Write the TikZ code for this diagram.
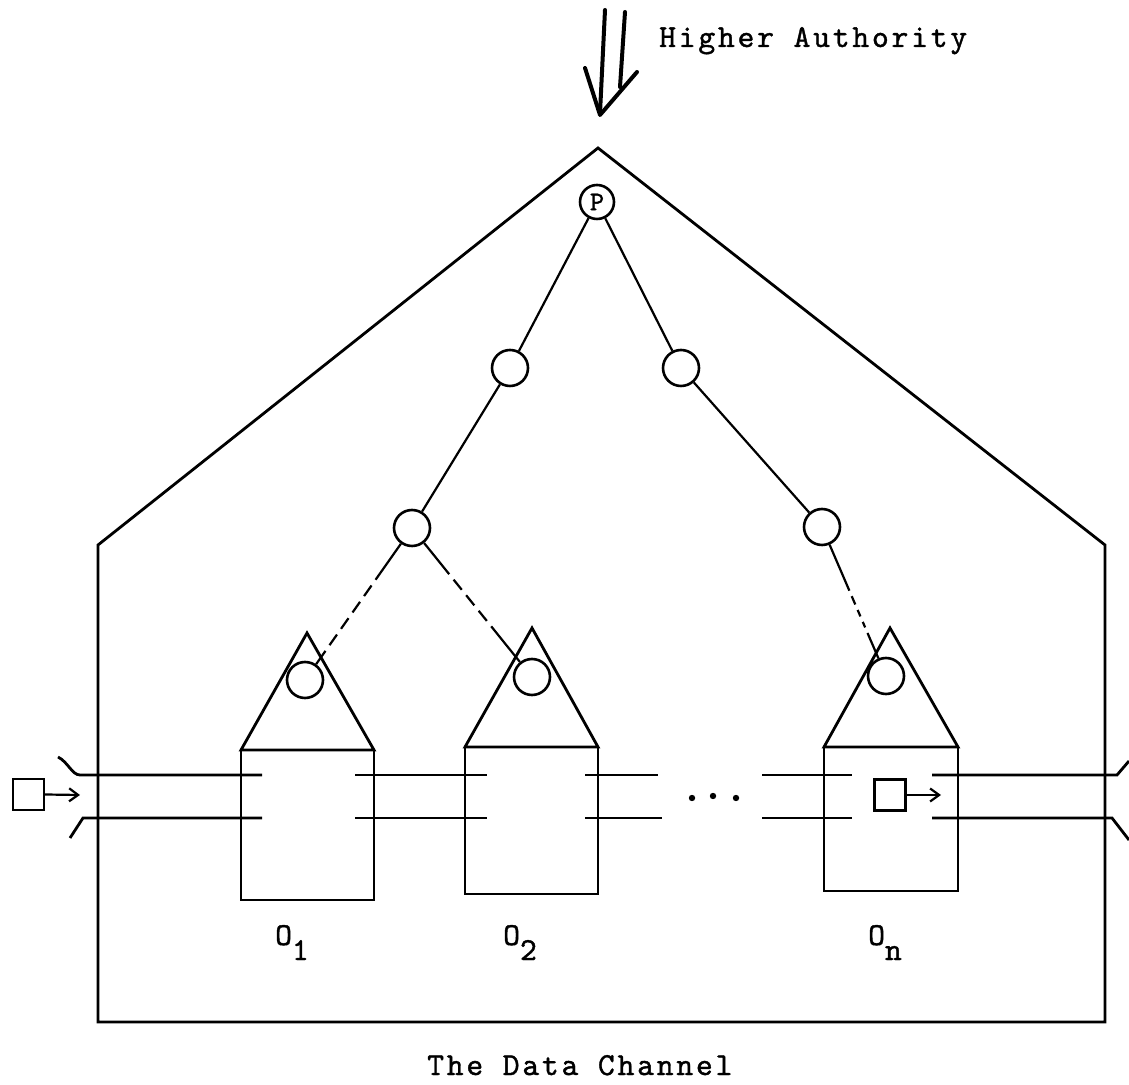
\documentclass[tikz,border=0pt]{standalone}
\usepackage{fontspec}
\usetikzlibrary{arrows.meta}

\newfontfamily\twfont{lmmono10-regular.otf}[LetterSpace=8.75, FakeBold=1.2]
\newcommand\typewriter{\twfont\fontsize{32}{36}\selectfont}

\tikzset{
  wall/.style={line width=2.8pt, line join=miter},
  proc/.style={line width=2.8pt, line join=miter},
  chan/.style={line width=2.8pt},
  treeedge/.style={line width=2.2pt},
  tnode/.style={circle, draw, line width=2.6pt, minimum size=36pt, inner sep=0pt},
  pnode/.style={circle, draw, line width=2.6pt, minimum size=34pt, inner sep=0pt},
  msgbox/.style={draw, line width=2.4pt, minimum size=31pt, inner sep=0pt},
  msgarrow/.style={line width=2.2pt, -{Straight Barb[length=9pt, width=13pt, line width=2.2pt]}},
  tw/.style={font=\typewriter, inner sep=0pt},
  hand/.style={line width=4pt, line cap=round, line join=round},
}

\begin{document}
\begin{tikzpicture}[x=1pt, y=1pt]
\useasboundingbox (0,0) rectangle (1129,1084);

% outer building: the domain of the principal
\draw[wall] (98,62) -- (98,539) -- (598,936) -- (1105,539) -- (1105,62) -- cycle;

% incoming order from above
\draw[hand] (605,1074) -- (600,971);
\draw[hand] (625,1072) -- (620,997);
\draw[hand] (585,1016) -- (600,969) -- (637,1012);

\node[tw, anchor=base west] (higher) at (659,1037) {Higher Authority};

% hierarchy of controllers
\node[pnode] (p) at (597,882) {\twfont\fontsize{27}{28}\selectfont P};
\node[tnode] (l2a) at (510,716) {};
\node[tnode] (l2b) at (681,716) {};
\node[tnode] (l3a) at (412,556) {};
\node[tnode] (l3b) at (822,557) {};

% officers: roof with controller circle, body below
\draw[proc] (241,334) -- (307,451) -- (374,334) -- cycle;
\draw[proc] (241,334) rectangle (374,184);
\draw[proc] (465,337) -- (532,456) -- (598,337) -- cycle;
\draw[proc] (465,337) rectangle (598,190);
\draw[proc] (824,337) -- (890,456) -- (958,337) -- cycle;
\draw[proc] (824,337) rectangle (958,193);

\node[tnode] (c1) at (305,404) {};
\node[tnode] (c2) at (532,407) {};
\node[tnode] (cn) at (886,408) {};

\draw[treeedge] (p) -- (l2a);
\draw[treeedge] (p) -- (l2b);
\draw[treeedge] (l2a) -- (l3a);
\draw[treeedge] (l2b) -- (l3b);
\draw[treeedge, dash pattern=on 44pt off 7pt on 13pt off 7pt on 13pt off 7pt on 13pt off 7pt on 13pt off 7pt on 40pt] (l3a) -- (c1);
\draw[treeedge, dash pattern=on 40pt off 7pt on 13pt off 7pt on 13pt off 7pt on 13pt off 7pt on 50pt] (l3a) -- (c2);
\draw[treeedge, dash pattern=on 50pt off 6pt on 9pt off 6pt on 7pt off 6pt on 6pt off 6pt on 40pt] (l3b) -- (cn);

% the data channel
\draw[chan] (58,327) .. controls (68,322) and (72,309) .. (80,309) -- (262,309);
\draw[chan] (70,246) -- (83,266) -- (262,266);
\draw[chan] (355,309) -- (487,309);
\draw[chan] (355,266) -- (487,266);
\draw[chan] (585,309) -- (658,309);
\draw[chan] (585,266) -- (662,266);
\draw[chan] (762,309) -- (852,309);
\draw[chan] (762,266) -- (852,266);
\draw[chan] (932,309) -- (1117,309) -- (1129,323);
\draw[chan] (932,266) -- (1112,266) -- (1129,244);

\foreach \dx/\dy in {692/286, 713/288, 736/286}
  \fill (\dx,\dy) circle (3.2pt);

% messages travelling along the channel
\node[msgbox] (m0) at (28.5,289.5) {};
\coordinate (m0tip) at (80,289);
\draw[msgarrow] (m0.east) -- (m0tip);
\node[msgbox] (mn) at (890,289) {};
\coordinate (mntip) at (941,289);
\draw[msgarrow] (mn.east) -- (mntip);

% officer labels
\node[tw, anchor=base west] (o1) at (275,139) {O\raisebox{-15pt}{1}};
\node[tw, anchor=base west] (o2) at (503,139) {O\raisebox{-15pt}{2}};
\node[tw, anchor=base west] (on) at (868,139) {O\raisebox{-15pt}{n}};

\node[tw, anchor=base west] (channel) at (427,9) {The Data Channel};
\end{tikzpicture}
\end{document}
